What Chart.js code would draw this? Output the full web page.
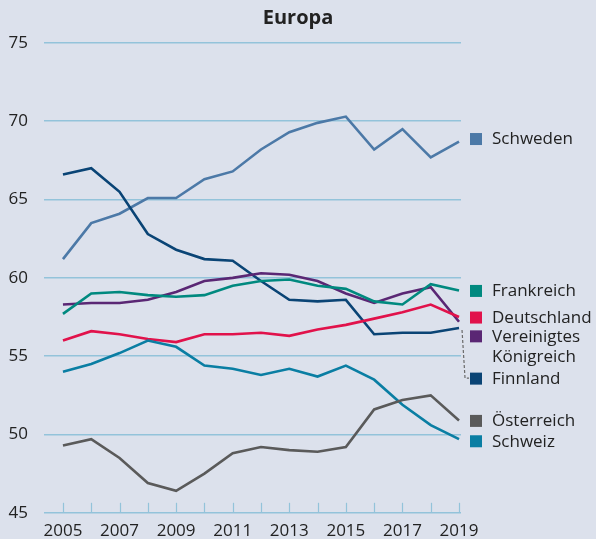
<!DOCTYPE html>
<html>
<head>
<meta charset="utf-8">
<script src="https://cdn.jsdelivr.net/npm/chart.js@4"></script>
<style>
  html, body { margin: 0; padding: 0; background: #dce1ec; }
  #wrap { width: 596px; height: 539px; }
</style>
</head>
<body>
<div id="wrap"><canvas id="lineChart" width="596" height="539"></canvas></div>
<script>
// Daten
const years = [2005, 2006, 2007, 2008, 2009, 2010, 2011, 2012, 2013, 2014, 2015, 2016, 2017, 2018, 2019];
const schweden    = [61.2, 63.5, 64.1, 65.1, 65.1, 66.3, 66.8, 68.2, 69.3, 69.9, 70.3, 68.2, 69.5, 67.7, 68.7];
const frankreich  = [57.7, 59.0, 59.1, 58.9, 58.8, 58.9, 59.5, 59.8, 59.9, 59.5, 59.3, 58.5, 58.3, 59.6, 59.2];
const deutschland = [56.0, 56.6, 56.4, 56.1, 55.9, 56.4, 56.4, 56.5, 56.3, 56.7, 57.0, 57.4, 57.8, 58.3, 57.5];
const vereinigtes = [58.3, 58.4, 58.4, 58.6, 59.1, 59.8, 60.0, 60.3, 60.2, 59.8, 59.0, 58.4, 59.0, 59.4, 57.2];
const finnland    = [66.6, 67.0, 65.5, 62.8, 61.8, 61.2, 61.1, 59.8, 58.6, 58.5, 58.6, 56.4, 56.5, 56.5, 56.8];
const oesterreich = [49.3, 49.7, 48.5, 46.9, 46.4, 47.5, 48.8, 49.2, 49.0, 48.9, 49.2, 51.6, 52.2, 52.5, 50.9];
const schweiz     = [54.0, 54.5, 55.2, 56.0, 55.6, 54.4, 54.2, 53.8, 54.2, 53.7, 54.4, 53.5, 51.9, 50.6, 49.7];
const yTicks = [45, 50, 55, 60, 65, 70, 75];
const xTickYears = [2005, 2007, 2009, 2011, 2013, 2015, 2017, 2019];

// Beschriftung rechts (Name, Farbe, Höhe der Beschriftung in Achsenwerten)
const legendItems = [
    { lines: ['Schweden'], color: '#4c79a7', at: 68.9 },
    { lines: ['Frankreich'], color: '#00897f', at: 59.2 },
    { lines: ['Deutschland'], color: '#e1124b', at: 57.5 },
    { lines: ['Vereinigtes', 'Königreich'], color: '#5a2774', at: 56.3 },
    { lines: ['Finnland'], color: '#0a4475', at: 53.6 },
    { lines: ['Österreich'], color: '#5a5a5a', at: 50.9 },
    { lines: ['Schweiz'], color: '#0a7ea3', at: 49.6 }
];

const gridColor = '#93c3da';
const textColor = '#222222';
const fontFamily = '"Open Sans", "Noto Sans", sans-serif';

function series(values, color) {
    return {
        data: years.map((y, i) => ({ x: y, y: values[i] })),
        borderColor: color,
        backgroundColor: color,
        borderWidth: 2.6,
        pointRadius: 0,
        tension: 0,
        fill: false
    };
}

const data = {
    datasets: [
        series(oesterreich, '#5a5a5a'),
        series(schweiz, '#0a7ea3'),
        series(deutschland, '#e1124b'),
        series(frankreich, '#00897f'),
        series(vereinigtes, '#5a2774'),
        series(finnland, '#0a4475'),
        series(schweden, '#4c79a7')
    ]
};

// Titel, Striche an der x-Achse (nach innen) und Beschriftung rechts
const extrasPlugin = {
    id: 'extras',
    afterDatasetsDraw(chart) {
        const ctx = chart.ctx;
        const xs = chart.scales.x;
        const ys = chart.scales.y;
        const area = chart.chartArea;
        ctx.save();

        ctx.fillStyle = textColor;
        ctx.font = 'bold 20px ' + fontFamily;
        ctx.textAlign = 'center';
        ctx.textBaseline = 'middle';
        ctx.fillText('Europa', chart.width / 2, 18);

        ctx.strokeStyle = gridColor;
        ctx.lineWidth = 1.2;
        years.forEach(y => {
            const px = Math.round(xs.getPixelForValue(y)) + 0.5;
            ctx.beginPath();
            ctx.moveTo(px, area.bottom);
            ctx.lineTo(px, area.bottom - 10);
            ctx.stroke();
        });

        // gestrichelte Verbindung Finnland
        const fx = xs.getPixelForValue(2019);
        const fy = ys.getPixelForValue(finnland[finnland.length - 1]);
        const ly = ys.getPixelForValue(53.6);
        ctx.strokeStyle = '#6a6a6a';
        ctx.lineWidth = 1.2;
        ctx.setLineDash([3, 2]);
        ctx.beginPath();
        ctx.moveTo(fx + 3, fy + 2);
        ctx.lineTo(fx + 6, ly);
        ctx.lineTo(fx + 10, ly);
        ctx.stroke();
        ctx.setLineDash([]);

        ctx.font = '17px ' + fontFamily;
        ctx.textBaseline = 'middle';
        ctx.textAlign = 'left';
        legendItems.forEach(item => {
            const py = ys.getPixelForValue(item.at);
            ctx.fillStyle = item.color;
            ctx.fillRect(area.right + 9, py - 5.5, 12, 12);
            ctx.fillStyle = textColor;
            item.lines.forEach((t, j) => {
                ctx.fillText(t, area.right + 31, py + 1 + j * 20);
            });
        });
        ctx.restore();
    }
};

const options = {
    responsive: false,
    animation: false,
    layout: {
        padding: { left: 0, right: 135, top: 43, bottom: 0 }
    },
    scales: {
        x: {
            type: 'linear',
            min: 2004.33,
            max: 2019.07,
            afterBuildTicks(axis) {
                axis.ticks = xTickYears.map(v => ({ value: v }));
            },
            afterFit(axis) {
                axis.height = 25;
            },
            grid: { display: false },
            border: { display: false },
            ticks: {
                color: textColor,
                font: { family: fontFamily, size: 17 },
                padding: 0,
                maxRotation: 0,
                autoSkip: false,
                callback: v => String(v)
            }
        },
        y: {
            min: 45,
            max: 75,
            afterBuildTicks(axis) {
                axis.ticks = yTicks.map(v => ({ value: v }));
            },
            afterFit(axis) {
                axis.width = 44;
            },
            grid: {
                color: gridColor,
                lineWidth: 1.6,
                drawTicks: false
            },
            border: { display: false },
            ticks: {
                color: textColor,
                font: { family: fontFamily, size: 17 },
                padding: 16
            }
        }
    },
    plugins: {
        legend: { display: false },
        tooltip: { enabled: false },
        title: { display: false }
    }
};

new Chart(document.getElementById('lineChart'), {
    type: 'line',
    data: data,
    options: options,
    plugins: [extrasPlugin]
});
</script>
</body>
</html>
